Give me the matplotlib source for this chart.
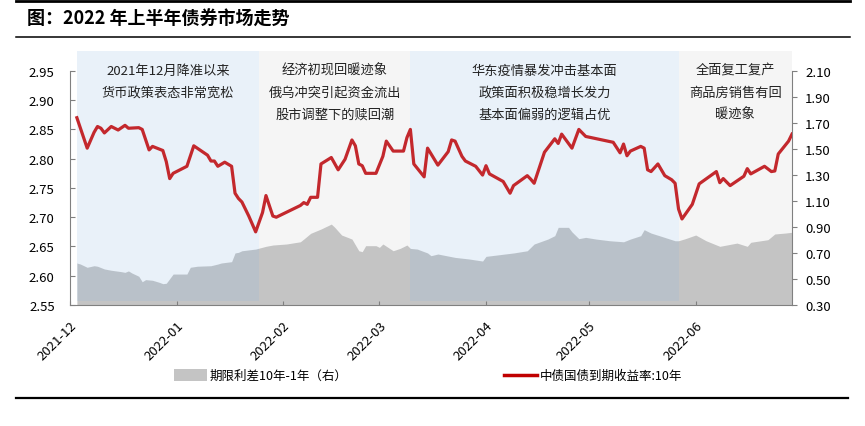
import matplotlib.pyplot as plt
import pandas as pd
from matplotlib.patches import Rectangle
from matplotlib.lines import Line2D

plt.rcParams['font.family'] = ['Noto Sans CJK SC', 'DejaVu Sans']

# --- data ---
yield_dates = [
    "2021-12-03", "2021-12-06", "2021-12-08", "2021-12-09", "2021-12-10", "2021-12-11",
    "2021-12-13", "2021-12-15", "2021-12-17", "2021-12-18", "2021-12-21", "2021-12-22",
    "2021-12-24", "2021-12-25", "2021-12-28", "2021-12-29", "2021-12-30", "2021-12-31",
    "2022-01-04", "2022-01-06", "2022-01-10", "2022-01-11", "2022-01-12", "2022-01-13",
    "2022-01-15", "2022-01-17", "2022-01-18", "2022-01-19", "2022-01-20", "2022-01-22",
    "2022-01-24", "2022-01-26", "2022-01-27", "2022-01-29", "2022-01-30", "2022-02-06",
    "2022-02-07", "2022-02-08", "2022-02-09", "2022-02-11", "2022-02-12", "2022-02-15",
    "2022-02-17", "2022-02-19", "2022-02-21", "2022-02-22", "2022-02-23", "2022-02-24",
    "2022-02-25", "2022-02-28", "2022-03-02", "2022-03-03", "2022-03-05", "2022-03-08",
    "2022-03-09", "2022-03-10", "2022-03-11", "2022-03-14", "2022-03-15", "2022-03-18",
    "2022-03-21", "2022-03-22", "2022-03-23", "2022-03-25", "2022-03-26", "2022-03-29",
    "2022-03-31", "2022-04-01", "2022-04-02", "2022-04-06", "2022-04-08", "2022-04-09",
    "2022-04-13", "2022-04-14", "2022-04-15", "2022-04-18", "2022-04-21", "2022-04-22",
    "2022-04-23", "2022-04-24", "2022-04-26", "2022-04-28", "2022-04-30", "2022-05-08",
    "2022-05-10", "2022-05-11", "2022-05-12", "2022-05-13", "2022-05-16", "2022-05-17",
    "2022-05-18", "2022-05-19", "2022-05-21", "2022-05-23", "2022-05-25", "2022-05-26",
    "2022-05-27", "2022-05-28", "2022-05-31", "2022-06-02", "2022-06-07", "2022-06-08",
    "2022-06-09", "2022-06-11", "2022-06-15", "2022-06-16", "2022-06-17", "2022-06-21",
    "2022-06-23", "2022-06-24", "2022-06-25", "2022-06-28", "2022-06-29",
]
yield_10y = [
    2.870, 2.818, 2.845, 2.855, 2.852, 2.844,
    2.855, 2.849, 2.857, 2.852, 2.853, 2.850,
    2.815, 2.821, 2.814, 2.795, 2.766, 2.775,
    2.787, 2.822, 2.806, 2.796, 2.796, 2.787,
    2.794, 2.787, 2.741, 2.732, 2.726, 2.702,
    2.675, 2.708, 2.737, 2.702, 2.700, 2.720,
    2.725, 2.722, 2.734, 2.734, 2.791, 2.802,
    2.781, 2.799, 2.832, 2.822, 2.791, 2.788,
    2.775, 2.775, 2.804, 2.830, 2.813, 2.813,
    2.836, 2.850, 2.791, 2.769, 2.818, 2.789,
    2.812, 2.832, 2.830, 2.804, 2.796, 2.787,
    2.772, 2.788, 2.774, 2.761, 2.741, 2.754,
    2.771, 2.765, 2.758, 2.811, 2.834, 2.826,
    2.842, 2.834, 2.818, 2.850, 2.838, 2.828,
    2.810, 2.825, 2.805, 2.813, 2.821, 2.818,
    2.781, 2.778, 2.791, 2.771, 2.764, 2.758,
    2.714, 2.697, 2.722, 2.757, 2.778, 2.759,
    2.766, 2.754, 2.770, 2.783, 2.774, 2.787,
    2.778, 2.779, 2.808, 2.830, 2.842,
]

spread_dates = [
    "2021-12-03", "2021-12-04", "2021-12-06", "2021-12-08", "2021-12-09", "2021-12-11",
    "2021-12-13", "2021-12-16", "2021-12-17", "2021-12-18", "2021-12-19", "2021-12-21",
    "2021-12-22", "2021-12-23", "2021-12-25", "2021-12-27", "2021-12-28", "2021-12-29",
    "2021-12-31", "2022-01-04", "2022-01-05", "2022-01-07", "2022-01-11", "2022-01-13",
    "2022-01-14", "2022-01-17", "2022-01-18", "2022-01-19", "2022-01-20", "2022-01-24",
    "2022-01-27", "2022-01-29", "2022-02-02", "2022-02-06", "2022-02-07", "2022-02-09",
    "2022-02-12", "2022-02-15", "2022-02-16", "2022-02-18", "2022-02-21", "2022-02-23",
    "2022-02-24", "2022-02-25", "2022-02-28", "2022-03-01", "2022-03-02", "2022-03-05",
    "2022-03-07", "2022-03-09", "2022-03-10", "2022-03-12", "2022-03-15", "2022-03-16",
    "2022-03-18", "2022-03-23", "2022-03-27", "2022-03-31", "2022-04-01", "2022-04-09",
    "2022-04-13", "2022-04-15", "2022-04-19", "2022-04-21", "2022-04-22", "2022-04-25",
    "2022-04-26", "2022-04-28", "2022-04-30", "2022-05-03", "2022-05-07", "2022-05-11",
    "2022-05-13", "2022-05-16", "2022-05-17", "2022-05-19", "2022-05-22", "2022-05-26",
    "2022-05-27", "2022-05-29", "2022-06-01", "2022-06-04", "2022-06-08", "2022-06-10",
    "2022-06-13", "2022-06-16", "2022-06-17", "2022-06-22", "2022-06-24", "2022-06-27",
    "2022-06-29",
]
spread_10y_1y = [
    0.623, 0.615, 0.590, 0.602, 0.598, 0.577,
    0.567, 0.556, 0.551, 0.562, 0.546, 0.521,
    0.479, 0.495, 0.490, 0.474, 0.464, 0.467,
    0.538, 0.538, 0.590, 0.598, 0.602, 0.615,
    0.623, 0.633, 0.700, 0.705, 0.717, 0.730,
    0.751, 0.761, 0.769, 0.786, 0.807, 0.851,
    0.884, 0.922, 0.897, 0.838, 0.807, 0.717,
    0.710, 0.756, 0.756, 0.743, 0.769, 0.717,
    0.735, 0.761, 0.735, 0.730, 0.700, 0.679,
    0.692, 0.666, 0.654, 0.638, 0.674, 0.700,
    0.717, 0.769, 0.807, 0.833, 0.897, 0.897,
    0.862, 0.810, 0.820, 0.807, 0.794, 0.786,
    0.807, 0.833, 0.879, 0.853, 0.828, 0.794,
    0.794, 0.810, 0.838, 0.794, 0.751, 0.761,
    0.776, 0.751, 0.782, 0.802, 0.846, 0.853,
    0.859,
]

phase_bounds = ["2021-12-03", "2022-01-25", "2022-03-10", "2022-05-27", "2022-06-29"]
phase_texts = [
    ["2021年12月降准以来", "货币政策表态非常宽松"],
    ["经济初现回暖迹象", "俄乌冲突引起资金流出", "股市调整下的赎回潮"],
    ["华东疫情暴发冲击基本面", "政策面积极稳增长发力", "基本面偏弱的逻辑占优"],
    ["全面复工复产", "商品房销售有回", "暖迹象"],
]
month_labels = ["2021-12", "2022-01", "2022-02", "2022-03", "2022-04", "2022-05", "2022-06"]
left_ticks = [2.55, 2.60, 2.65, 2.70, 2.75, 2.80, 2.85, 2.90, 2.95]
right_ticks = [0.30, 0.50, 0.70, 0.90, 1.10, 1.30, 1.50, 1.70, 1.90, 2.10]

# --- figure ---
fig = plt.figure(figsize=(8.65, 4.27), dpi=100)
ax = fig.add_axes([70 / 865, 1 - 306 / 427, 722 / 865, 254 / 427])
ax2 = ax.twinx()
ax.set_zorder(ax2.get_zorder() + 1)
ax.patch.set_visible(False)

grey = '#808080'
red = '#C3282D'

ax2.fill_between(pd.to_datetime(spread_dates), 0.30, spread_10y_1y,
                 color='#C4C4C4', lw=0)

b = pd.to_datetime(phase_bounds)
for i in range(4):
    if i % 2 == 0:
        ax.axvspan(b[i], b[i + 1], ymin=0.016, ymax=1, color='#91B9E1', alpha=0.2, lw=0, zorder=0)
    else:
        ax.axvspan(b[i], b[i + 1], ymin=0.016, ymax=1, color='#C4C4C4', alpha=0.17, lw=0, zorder=0)
    mid = b[i] + (b[i + 1] - b[i]) / 2
    for j, line in enumerate(phase_texts[i]):
        ax.text(mid, 0.925 - j * 22 / 254, line, transform=ax.get_xaxis_transform(),
                ha='center', va='center', fontsize=9.5, color='#222222')

ax.plot(pd.to_datetime(yield_dates), yield_10y, color=red, lw=2.3, zorder=5)

ax.set_xlim(pd.Timestamp("2021-12-01"), pd.Timestamp("2022-06-29"))
ax.set_ylim(2.55, 2.984)
ax2.set_ylim(0.30, 2.253)

ax.set_yticks(left_ticks)
ax.set_yticklabels([f"{v:.2f}" for v in left_ticks])
ax2.set_yticks(right_ticks)
ax2.set_yticklabels([f"{v:.2f}" for v in right_ticks])
ax.set_xticks(pd.to_datetime(month_labels))
ax.set_xticklabels(month_labels, rotation=45, ha='right', va='top', rotation_mode='anchor')

ax.tick_params(axis='y', direction='in', length=3.5, color=grey, pad=11, labelsize=9.5)
ax.tick_params(axis='x', direction='in', length=3, color=grey, pad=10, labelsize=9.5)
ax2.tick_params(axis='y', direction='out', length=3.5, color=grey, pad=6, labelsize=9.5)

for a in (ax, ax2):
    a.spines['top'].set_visible(False)
    for s in a.spines.values():
        s.set_color(grey)
ax.spines['right'].set_visible(False)
ax2.spines['left'].set_visible(False)
ax2.spines['bottom'].set_visible(False)
ax.spines['left'].set_bounds(2.55, 2.95)
ax2.spines['right'].set_bounds(0.30, 2.10)

# --- title, rules, legend ---
fig.text(27 / 865, 1 - 19 / 427, "图：2022 年上半年债券市场走势", fontsize=13,
         fontweight='bold', va='center', ha='left')
fig.add_artist(Line2D([16 / 865, 850 / 865], [1 - 1.5 / 427] * 2, color='black', lw=2))
fig.add_artist(Line2D([16 / 865, 850 / 865], [1 - 38 / 427] * 2, color='black', lw=1.1))
fig.add_artist(Line2D([16 / 865, 848 / 865], [1 - 399 / 427] * 2, color='black', lw=1.6))

ly = 1 - 376 / 427
fig.add_artist(Rectangle((174 / 865, ly - 6 / 427), 33 / 865, 12 / 427,
                         transform=fig.transFigure, color='#C4C4C4', lw=0))
fig.text(210 / 865, ly, "期限利差10年-1年（右）", fontsize=9, va='center', ha='left')
fig.add_artist(Line2D([504 / 865, 537 / 865], [ly, ly], color='#C00000', lw=2.5))
fig.text(540 / 865, ly, "中债国债到期收益率:10年", fontsize=9, va='center', ha='left')

fig.savefig("out.png", dpi=100)
